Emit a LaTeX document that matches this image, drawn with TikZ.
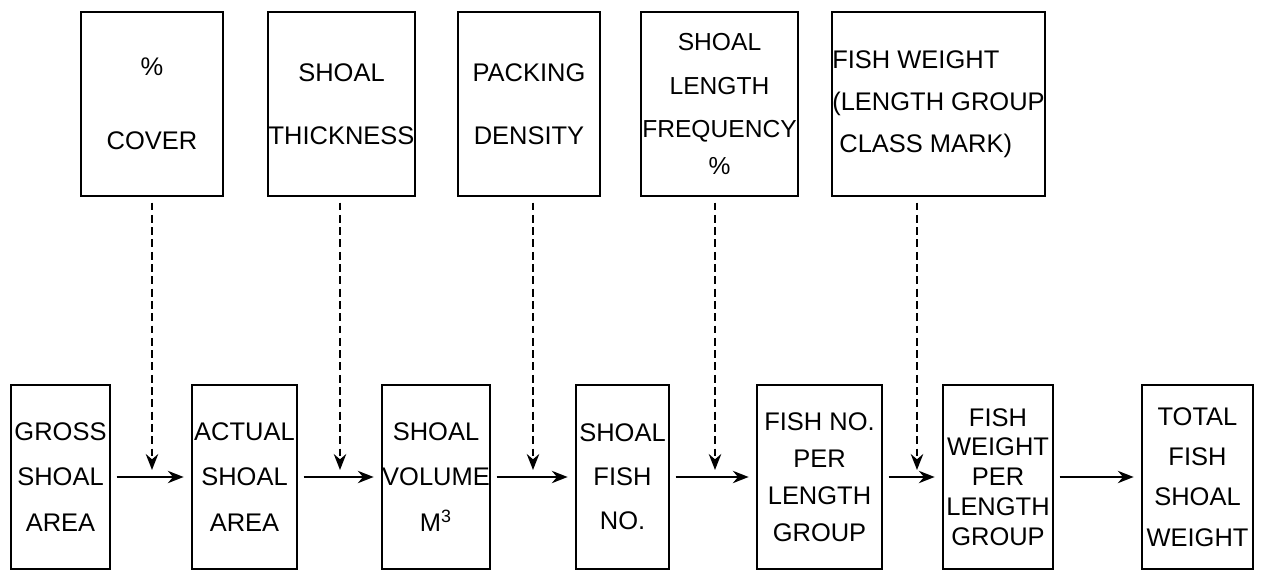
\documentclass[tikz,border=0pt]{standalone}
\usepackage{fontspec}
\setmainfont{Liberation Sans}
\usetikzlibrary{arrows.meta}

\begin{document}
\begin{tikzpicture}[x=0.02cm, y=-0.02cm,
  box/.style={draw, line width=1.5pt, inner sep=0pt, align=center, minimum height=3.68cm},
  lines/.style={font=\fontsize{14.5}{#1}\selectfont},
  arr/.style={-{Stealth[length=9pt, width=7pt]}, line width=1.2pt, shorten <=3pt, shorten >=4pt},
  dasharr/.style={-{Stealth[length=9pt, width=7pt]}, line width=1.6pt, dash pattern=on 4.5pt off 2.5pt, shorten <=3pt, shorten >=4pt}
]
\useasboundingbox (0,0) rectangle (1262,571);

% inputs
\node[box, lines=26, minimum width=2.84cm] (cover) at (152,104) {\%\\[16pt]COVER};
\node[box, lines=26, minimum width=2.94cm] (thick) at (341.5,104) {SHOAL\\[10pt]THICKNESS};
\node[box, lines=26, minimum width=2.84cm] (pack) at (529,104) {PACKING\\[10pt]DENSITY};
\node[box, font=\fontsize{14}{25}\selectfont, minimum width=3.14cm] (freq) at (719.5,104) {SHOAL\\LENGTH\\FREQUENCY\\[-4pt]\%};
\node[box, lines=24, minimum width=4.26cm, align=left] (mark) at (938.5,104)
  {FISH WEIGHT\\(LENGTH GROUP\\\hspace*{4pt}CLASS MARK)};

% chain
\node[box, lines=26, minimum width=1.98cm] (gross) at (60.5,477) {GROSS\\SHOAL\\AREA};
\node[box, lines=26, minimum width=2.10cm] (actual) at (244.5,477) {ACTUAL\\SHOAL\\AREA};
\node[box, lines=26, minimum width=2.16cm] (vol) at (436,477) {SHOAL\\VOLUME\\M\textsuperscript{3}};
\node[box, lines=25, minimum width=1.86cm] (fishno) at (622.5,477) {SHOAL\\FISH\\NO.};
\node[box, lines=21, minimum width=2.50cm] (perlen) at (819.5,477) {FISH NO.\\PER\\LENGTH\\GROUP};
\node[box, lines=17, minimum width=2.20cm] (wtlen) at (998,477) {FISH\\WEIGHT\\PER\\LENGTH\\GROUP};
\node[box, lines=23, minimum width=2.22cm] (total) at (1197.5,477) {TOTAL\\FISH\\SHOAL\\WEIGHT};

\coordinate (j1) at (152,477);
\coordinate (j2) at (340,477);
\coordinate (j3) at (533,477);
\coordinate (j4) at (715,477);
\coordinate (j5) at (917,477);

\draw[arr] (gross) -- (actual);
\draw[arr] (actual) -- (vol);
\draw[arr] (vol) -- (fishno);
\draw[arr] (fishno) -- (perlen);
\draw[arr] (perlen) -- (wtlen);
\draw[arr] (wtlen) -- (total);

\draw[dasharr] (cover.south -| j1) -- (j1);
\draw[dasharr] (thick.south -| j2) -- (j2);
\draw[dasharr] (pack.south -| j3) -- (j3);
\draw[dasharr] (freq.south -| j4) -- (j4);
\draw[dasharr] (mark.south -| j5) -- (j5);
\end{tikzpicture}
\end{document}
